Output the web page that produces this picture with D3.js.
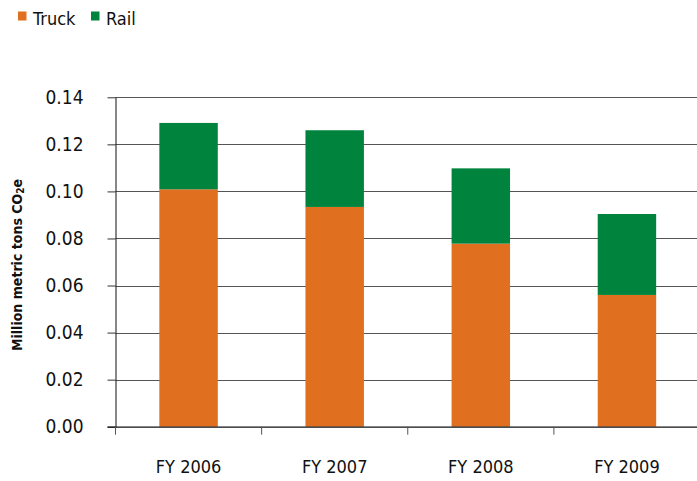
<!DOCTYPE html>
<html><head><meta charset="utf-8">
<script src="https://cdn.jsdelivr.net/npm/d3@7"></script>
<style>
body{margin:0;background:#fff;}
text{font-family:"Liberation Sans Narrow","DejaVu Sans Condensed","Roboto Condensed",sans-serif;fill:#111;}
</style></head>
<body><svg id="c" width="697" height="481"></svg>
<script>
const categories = ["FY 2006","FY 2007","FY 2008","FY 2009"];
const truck = [0.1009, 0.0934, 0.0778, 0.0560];
const rail  = [0.0282, 0.0326, 0.0320, 0.0344];
const seriesNames = ["Truck","Rail"];
const colors = ["#E07020","#00843D"];
const yTicks = [0,0.02,0.04,0.06,0.08,0.10,0.12,0.14];

const svg = d3.select("#c");
const mLeft = 115.5, mRight = 700, mTop = 97.3, mBottom = 426.7;
const x = d3.scaleBand().domain(categories).range([mLeft, mRight]).paddingInner(0.6).paddingOuter(0.3);
const y = d3.scaleLinear().domain([0,0.14]).range([mBottom, mTop]);

// gridlines
svg.append("g").selectAll("line").data(yTicks.slice(1)).join("line")
  .attr("x1", mLeft).attr("x2", 697).attr("y1", d=>Math.round(y(d))+0.5).attr("y2", d=>Math.round(y(d))+0.5)
  .attr("stroke","#555").attr("stroke-width",1);

// bars
const data = categories.map((c,i)=>({c, Truck:truck[i], Rail:rail[i]}));
const stack = d3.stack().keys(seriesNames)(data);
svg.append("g").selectAll("g").data(stack).join("g").attr("fill",(d,i)=>colors[i])
  .selectAll("rect").data(d=>d).join("rect")
  .attr("x", d=>x(d.data.c)).attr("width", x.bandwidth())
  .attr("y", d=>y(d[1])).attr("height", d=>y(d[0])-y(d[1]));

// y axis
const yAxis = svg.append("g").attr("transform",`translate(${mLeft},0)`)
  .call(d3.axisLeft(y).tickValues(yTicks).tickFormat(d3.format(".2f")).tickSize(8).tickPadding(24));
yAxis.select(".domain").attr("stroke","#111").attr("d",`M0.5,${mTop}V${mBottom+1}`);
yAxis.selectAll(".tick line").attr("stroke","#333");
yAxis.selectAll(".tick text").attr("font-size",19).attr("fill","#111")
  .attr("font-family",'"Liberation Sans Narrow","DejaVu Sans Condensed",sans-serif');

// x axis
const xAxisG = svg.append("g").attr("transform",`translate(0,${mBottom})`);
xAxisG.append("line").attr("x1",mLeft-8).attr("x2",697).attr("y1",0.5).attr("y2",0.5).attr("stroke","#111").attr("stroke-width",1.2);
const step = x.step();
const bounds = categories.map(c=>x(c) - (step - x.bandwidth())/2);
xAxisG.selectAll("line.t").data(bounds).join("line").attr("class","t")
  .attr("x1",d=>d).attr("x2",d=>d).attr("y1",0).attr("y2",8).attr("stroke","#555");
xAxisG.selectAll("text").data(categories).join("text")
  .attr("x",d=>x(d)+x.bandwidth()/2).attr("y",46).attr("text-anchor","middle")
  .attr("font-size",18).text(d=>d);

// y label
const yl = svg.append("text").attr("transform","translate(22,265) rotate(-90)")
  .attr("text-anchor","middle").attr("font-size",14).attr("font-weight","bold");
yl.append("tspan").text("Million metric tons CO");
yl.append("tspan").attr("font-size",10).attr("dy",2).text("2");
yl.append("tspan").attr("dy",-2).text("e");

// legend
const leg = svg.append("g");
const lx = [18, 91];
seriesNames.forEach((s,i)=>{
  leg.append("rect").attr("x",lx[i]).attr("y",11.5).attr("width",8.5).attr("height",9).attr("fill",colors[i]);
  leg.append("text").attr("x",lx[i]+15).attr("y",25).attr("font-size",18).text(s);
});
</script></body></html>
